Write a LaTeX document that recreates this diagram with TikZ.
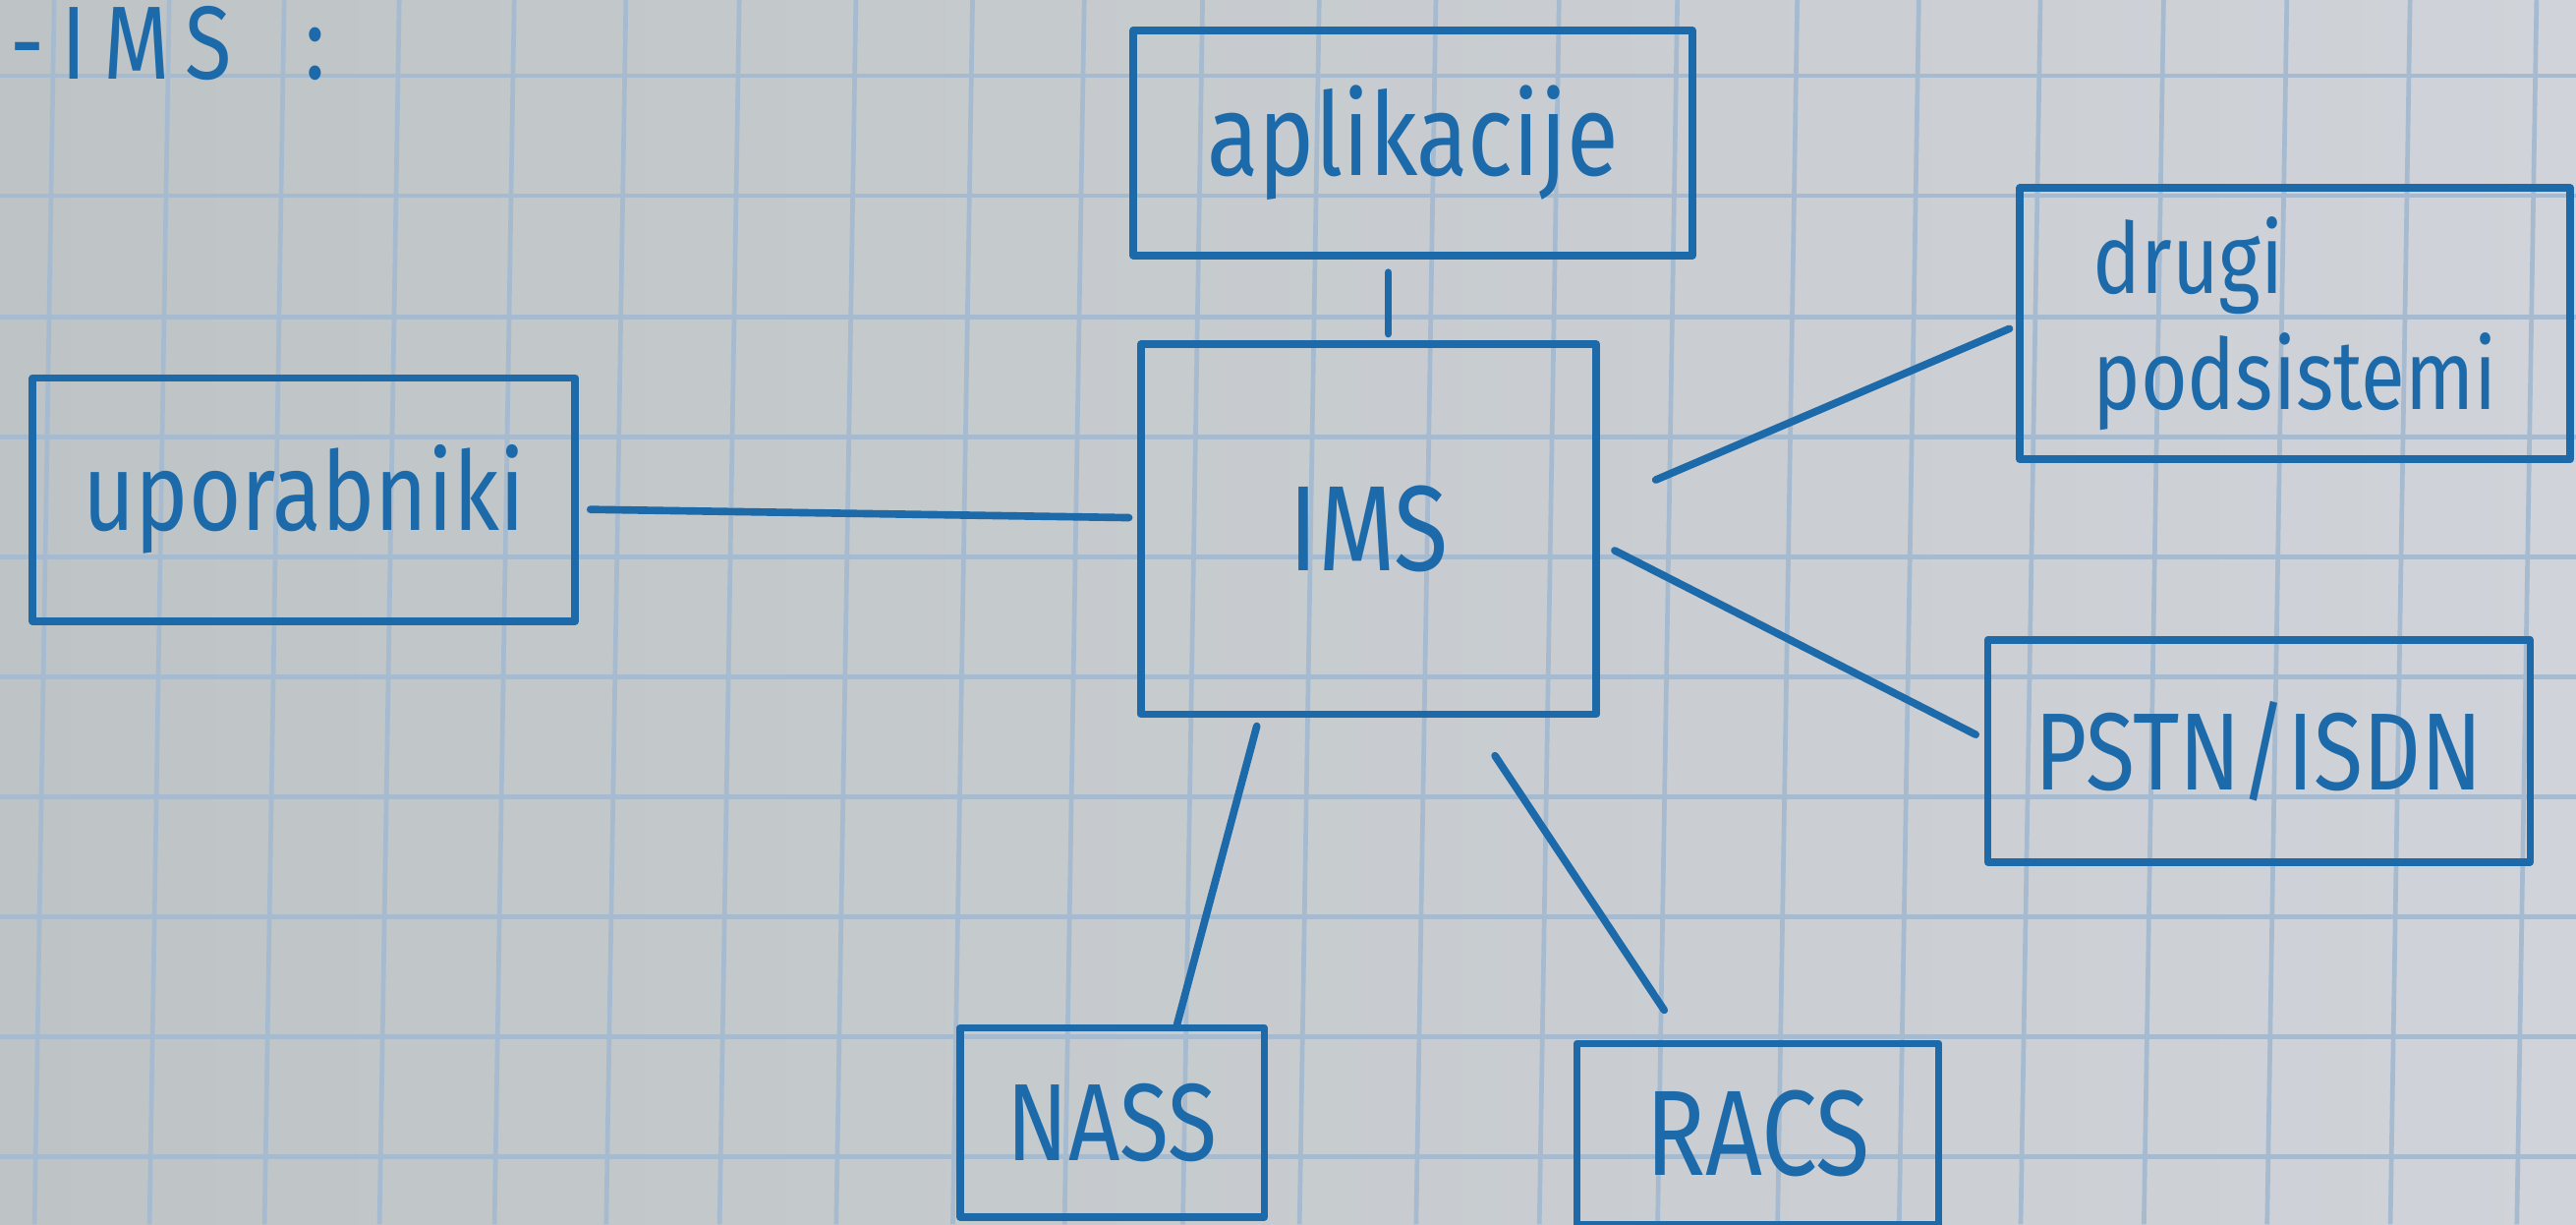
\documentclass[tikz,border=0pt]{standalone}
\usepackage{fontspec}
\setmainfont{Fira Sans}[FakeStretch=0.82]
\usetikzlibrary{calc}
\definecolor{inkBlue}{RGB}{28,106,170}
\definecolor{paperL}{RGB}{190,196,197}
\definecolor{paperR}{RGB}{208,211,217}
\definecolor{gridBlue}{RGB}{166,187,208}
\newcommand{\Hand}[1]{\fontsize{#1}{#1}\selectfont}

\tikzset{
  box/.style={draw=inkBlue,line width=1.3pt,line cap=round,line join=round,
    text=inkBlue,inner sep=0pt},
  link/.style={draw=inkBlue,line width=1.3pt,line cap=round},
  paperline/.style={draw=gridBlue,line width=0.8pt}
}

\begin{document}
\begin{tikzpicture}[x=0.01cm,y=-0.01cm]
% squared paper
\shade[left color=paperL,right color=paperR] (0,0) rectangle (1568,745);
\useasboundingbox (0,0) rectangle (1568,745);
\foreach \gx in {21,91,161,231,301,369,438,509,580,648,720,791,862,937,1009,1082,1156,1230,1305,1380,1455,1532}
  \draw[paperline] (\gx+12,0) -- (\gx,745);
\foreach \gy in {46,119,193,266,339,412,485,558,631,704}
  \draw[paperline] (0,\gy) -- (1568,\gy);

\node[anchor=base west,text=inkBlue,font={\Hand{18}\addfontfeature{LetterSpace=16}}] (title) at (-6,48) {-IMS\hspace{0.45cm}:};

% blocks
\node[box,minimum width=3.4cm,minimum height=1.37cm,font=\Hand{20}] (apps) at (860,87) {aplikacije};
\node[box,minimum width=2.77cm,minimum height=2.25cm,font=\Hand{21}] (ims) at (833,322) {IMS};
\node[box,minimum width=3.3cm,minimum height=1.48cm,font=\Hand{19}] (users) at (185,304) {uporabniki};
\node[box,minimum width=3.35cm,minimum height=1.65cm,align=left,
  font={\fontsize{17}{20}\selectfont}] (others) at (1397,197) {drugi\\podsistemi};
\node[box,minimum width=3.3cm,minimum height=1.35cm,font=\Hand{19}] (pstn) at (1375,457) {PSTN/ISDN};
\node[box,minimum width=1.85cm,minimum height=1.15cm,font=\Hand{19}] (nass) at (677,683) {NASS};
\node[box,minimum width=2.2cm,minimum height=1.1cm,font=\Hand{21}] (racs) at (1070,690) {RACS};

% links
\draw[link] ($(apps.south)+(-15,8)$) -- ($(ims.north)+(12,-4)$);
\draw[link] ($(users.east)+(7,6)$) -- ($(ims.west)+(-5,-7)$);
\draw[link] ($(ims.east)+(34,-30)$) -- ($(others.west)+(-4,3)$);
\draw[link] ($(ims.east)+(9,13)$) -- ($(pstn.west)+(-5,-10)$);
\draw[link] ($(ims.south)+(-68,5)$) -- ($(nass.north)+(39,2)$);
\draw[link] ($(ims.south)+(77,23)$) -- ($(racs.north)+(-57,-18)$);
\end{tikzpicture}
\end{document}
